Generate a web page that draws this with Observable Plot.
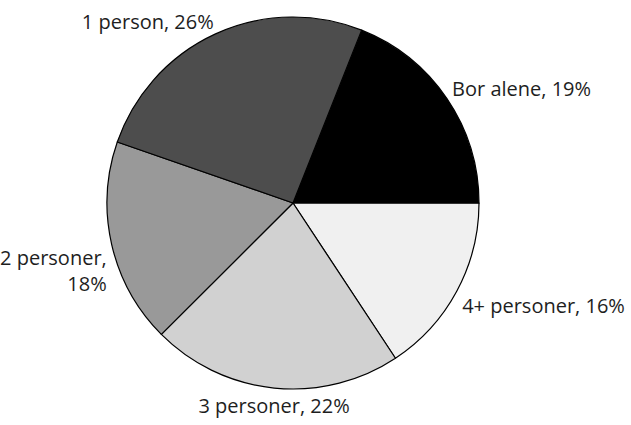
<!DOCTYPE html>
<html><head><meta charset="utf-8">
<script src="https://cdn.jsdelivr.net/npm/d3@7"></script>
<script src="https://cdn.jsdelivr.net/npm/@observablehq/plot@0.6"></script>
<style>
body{margin:0;background:#fff;}
svg{font-family:"Open Sans",sans-serif;}
</style>
</head><body><div id="chart"></div>
<script>
const categories = ["Bor alene", "4+ personer", "3 personer", "2 personer", "1 person"];
const shares = [19.0, 15.7, 21.8, 17.8, 25.7];
const labels = ["Bor alene, 19%", "4+ personer, 16%", "3 personer, 22%", "2 personer,\n18%", "1 person, 26%"];
const colors = ["#000000", "#f0f0f0", "#d1d1d1", "#999999", "#4d4d4d"];

const data = categories.map((c, i) => ({category: c, share: shares[i], label: labels[i]}));
const startAngle = 0.378;
const arcs = d3.pie().sort(null).value(d => d.share)
  .startAngle(startAngle).endAngle(startAngle + 2 * Math.PI)(data);
const gap = 0.03;
const table = arcs.map(a => {
  const mid = (a.startAngle + a.endAngle) / 2;
  const s = Math.sin(mid), c = Math.cos(mid);
  return {
    ...a.data, startAngle: a.startAngle, endAngle: a.endAngle,
    lx: (1 + gap) * s, ly: (1 + gap) * c,
    h: Math.abs(s) > 0.3 ? (s > 0 ? "start" : "end") : "middle",
    v: c > 0 ? "bottom" : "top"
  };
});
const fillScale = d3.scaleOrdinal(categories, colors);

const slices = (index, scales) => {
  const cx = scales.x(0), cy = scales.y(0), r = scales.x(1) - cx;
  const arc = d3.arc().innerRadius(0).outerRadius(r);
  const g = d3.create("svg:g").attr("transform", `translate(${cx},${cy})`);
  g.selectAll("path").data(table).join("path")
    .attr("d", d => arc(d))
    .attr("fill", d => fillScale(d.category))
    .attr("stroke", "#000")
    .attr("stroke-width", 1.2)
    .attr("stroke-linejoin", "round");
  return g.node();
};

const groups = d3.groups(table, d => d.h + "|" + d.v);
const textMarks = groups.map(([key, rows]) => {
  const [h, v] = key.split("|");
  return Plot.text(rows, {
    x: "lx", y: "ly", text: "label",
    textAnchor: h, lineAnchor: v,
    fontSize: 20, fontWeight: 370, lineHeight: 1.3, fill: "#1e1e1e"
  });
});

const chart = Plot.plot({
  width: 631, height: 425,
  marginLeft: 107, marginRight: 152, marginTop: 17, marginBottom: 36,
  x: {domain: [-1, 1], axis: null},
  y: {domain: [-1, 1], axis: null},
  style: {background: "#fff", fontFamily: "'Open Sans', sans-serif"},
  marks: [slices, ...textMarks]
});
document.getElementById("chart").appendChild(chart);
</script>
</body></html>
